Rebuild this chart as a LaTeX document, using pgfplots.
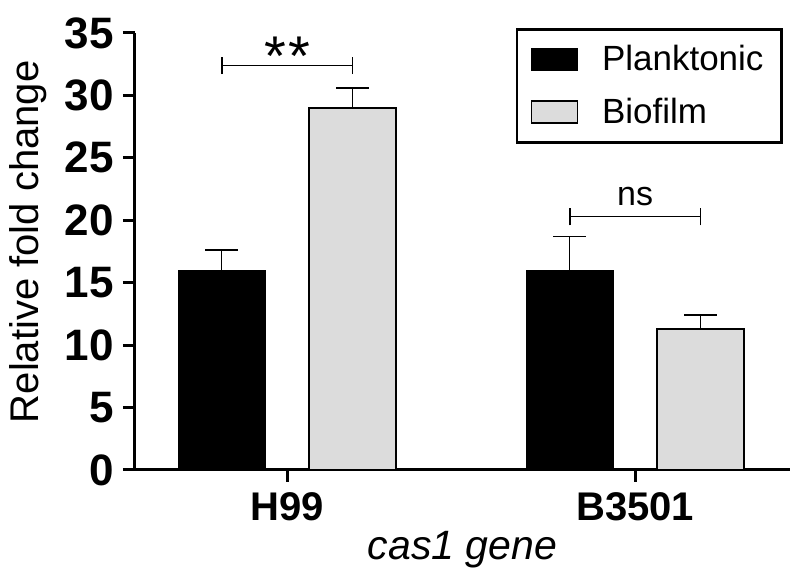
\documentclass[border=0pt]{standalone}
\usepackage{fontspec}
\setmainfont{Liberation Sans}
\usepackage{pgfplots}
\pgfplotsset{compat=1.18}

\definecolor{biogray}{HTML}{DCDCDC}

\begin{document}
\begin{tikzpicture}
\useasboundingbox (-67.5pt,-53.5pt) rectangle (332.5pt,235pt);
\begin{axis}[
    at={(0,0)}, anchor=south west,
    scale only axis,
    width=327.5pt, height=218.5pt,
    xmin=-0.437, xmax=1.445,
    ymin=0, ymax=35,
    axis x line*=bottom, axis y line*=left,
    axis line style={line width=1.5pt},
    ytick={0,5,...,35},
    xtick={0,1},
    xticklabels={H99,B3501},
    tick align=outside,
    major tick length=6pt,
    tick style={line width=1.5pt, black},
    /pgf/number format/assume math mode=true,
    yticklabel style={font=\fontsize{22}{26}\selectfont\bfseries, xshift=-1pt},
    xticklabel style={font=\fontsize{20}{24}\selectfont\bfseries, yshift=-2pt},
    ylabel={Relative fold change},
    every axis y label/.style={at={(axis description cs:-0.163,0.522)}, rotate=90, anchor=center,
        font=\fontsize{20}{24}\selectfont},
    xlabel={cas1 gene},
    every axis x label/.style={at={(axis description cs:0.5,-0.183)}, anchor=center,
        font=\fontsize{20.5}{24}\selectfont\itshape},
    ybar, bar width=0.25, bar shift=0pt,
    error bars/y dir=plus, error bars/y explicit,
    error bars/error mark options={line width=0.8pt, mark size=8.25pt, rotate=90},
    error bars/error bar style={line width=0.8pt, black},
    legend style={at={(rel axis cs:0.989,1.011)}, anchor=north east,
        draw=black, line width=1.3pt, font=\fontsize{17.5}{21}\selectfont,
        inner xsep=7pt, inner ysep=6pt, row sep=8pt,
        cells={anchor=west}},
    legend image code/.code={\draw[#1, line width=0.6pt] (0pt,-5.5pt) rectangle (23pt,5.5pt);},
    legend cell align=left,
]
\addplot[fill=black, draw=black, line width=0.6pt] coordinates {
    (-0.188,16.0) +- (0,1.6)
    (0.812,16.0) +- (0,2.7)
};
\addlegendentry{\hspace*{10pt}Planktonic}
\addplot[fill=biogray, draw=black, line width=0.6pt] coordinates {
    (0.188,29.0) +- (0,1.6)
    (1.188,11.3) +- (0,1.1)
};
\addlegendentry{\hspace*{10pt}Biofilm}

% significance brackets
\draw[line width=0.9pt] (axis cs:-0.188,31.7) -- (axis cs:-0.188,33.1);
\draw[line width=0.9pt] (axis cs:0.188,31.7) -- (axis cs:0.188,33.1);
\draw[line width=0.9pt] (axis cs:-0.188,32.4) -- (axis cs:0.188,32.4);
\node[font=\fontsize{28}{30}\selectfont, anchor=base] at (axis cs:0,31.6) {*\kern1pt*};
\draw[line width=0.9pt] (axis cs:0.812,19.6) -- (axis cs:0.812,21.0);
\draw[line width=0.9pt] (axis cs:1.188,19.6) -- (axis cs:1.188,21.0);
\draw[line width=0.9pt] (axis cs:0.812,20.3) -- (axis cs:1.188,20.3);
\node[font=\fontsize{17}{20}\selectfont] at (axis cs:1.0,21.9) {ns};
\end{axis}
\end{tikzpicture}
\end{document}
